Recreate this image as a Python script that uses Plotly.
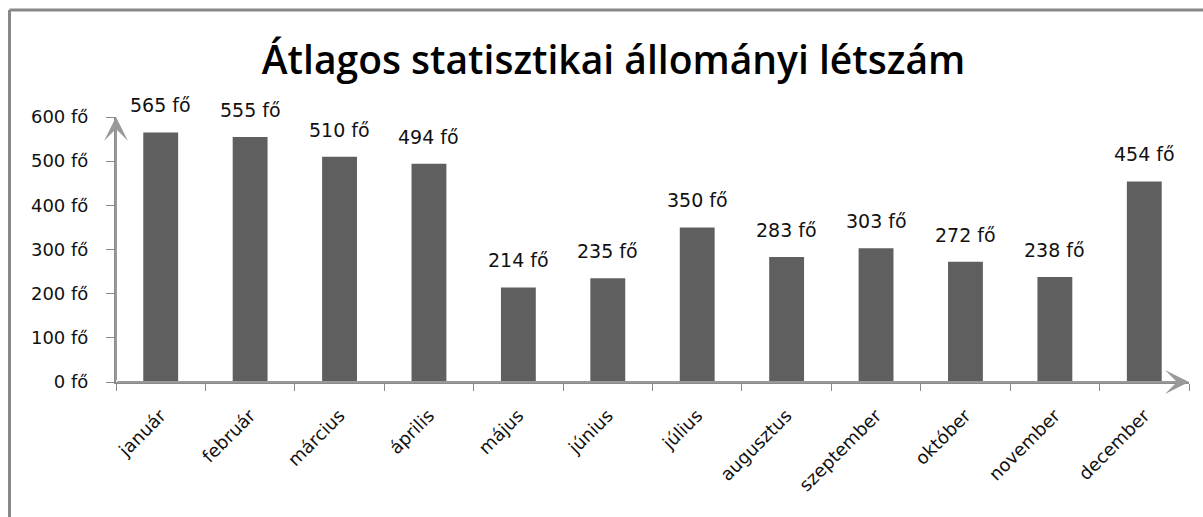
import plotly.graph_objects as go

months = ["január", "február", "március", "április", "május", "június",
          "július", "augusztus", "szeptember", "október", "november", "december"]
values = [565, 555, 510, 494, 214, 235, 350, 283, 303, 272, 238, 454]
unit = "fő"
y_ticks = [0, 100, 200, 300, 400, 500, 600]
title_text = "Átlagos statisztikai állományi létszám"

W, H = 1203, 517
ML, MR, MT, MB = 116, 14, 117, 135
pw = W - ML - MR
ph = H - MT - MB

FONT = "DejaVu Sans"
TFONT = "Open Sans"
AXC = "#8a8a8a"

fig = go.Figure()
fig.add_trace(go.Bar(
    x=months, y=values, marker=dict(color="#5f5f5f", line=dict(width=0)),
    width=0.39, hoverinfo="x+y",
))

annotations = []
for m, v in zip(months, values):
    annotations.append(dict(
        x=m, y=v, xref="x", yref="y", text=f"{v} {unit}", showarrow=False,
        yanchor="bottom", yshift=14, font=dict(family=FONT, size=19, color="#111"),
    ))
# axis arrows
annotations.append(dict(
    x=-0.5, y=y_ticks[-1], ax=-0.5, ay=0, xref="x", yref="y", axref="x", ayref="y",
    showarrow=True, arrowhead=3, arrowsize=2, arrowwidth=2, arrowcolor="#999999", text="",
))
annotations.append(dict(
    x=len(months) - 0.5, y=0, ax=-0.5, ay=0, xref="x", yref="y", axref="x", ayref="y",
    showarrow=True, arrowhead=3, arrowsize=2, arrowwidth=2, arrowcolor="#999999", text="",
))

# border (top + left)
bx = (9.5 - ML) / pw
by = (H - MB - 10) / ph
shapes = [
    dict(type="line", xref="paper", yref="paper", x0=bx, x1=(W + 5 - ML) / pw, y0=by, y1=by,
         line=dict(color="#888888", width=3)),
    dict(type="line", xref="paper", yref="paper", x0=bx, x1=bx, y0=by, y1=(-MB - 5) / ph,
         line=dict(color="#888888", width=3)),
]

fig.update_layout(
    width=W, height=H,
    margin=dict(l=ML, r=MR, t=MT, b=MB, autoexpand=False),
    paper_bgcolor="white", plot_bgcolor="white",
    showlegend=False,
    title=dict(text=title_text, x=0.51, xref="container", xanchor="center",
               y=1 - 60 / H, yref="container", yanchor="middle",
               font=dict(family=TFONT, size=39, color="#000", weight=600)),
    xaxis=dict(type="category", range=[-0.5, len(months) - 0.5],
               showline=True, linecolor=AXC, linewidth=2,
               ticks="outside", ticklen=7, tickcolor=AXC, tickwidth=1,
               tickson="boundaries", tickangle=-45, automargin=False,
               ticklabelstandoff=14,
               tickfont=dict(family=FONT, size=18, color="#111"),
               showgrid=False, zeroline=False, fixedrange=True),
    yaxis=dict(range=[0, y_ticks[-1]], tickvals=y_ticks,
               ticktext=[f"{t} {unit}" for t in y_ticks],
               showline=True, linecolor=AXC, linewidth=2,
               ticks="outside", ticklen=8, tickcolor=AXC, tickwidth=1,
               automargin=False, ticklabelstandoff=14,
               tickfont=dict(family=FONT, size=18, color="#111"),
               showgrid=False, zeroline=False, fixedrange=True),
    annotations=annotations,
    shapes=shapes,
)

fig.write_html("out.html", config={"displayModeBar": False},
               post_script="document.body.style.margin='0';document.body.style.overflow='hidden';")
